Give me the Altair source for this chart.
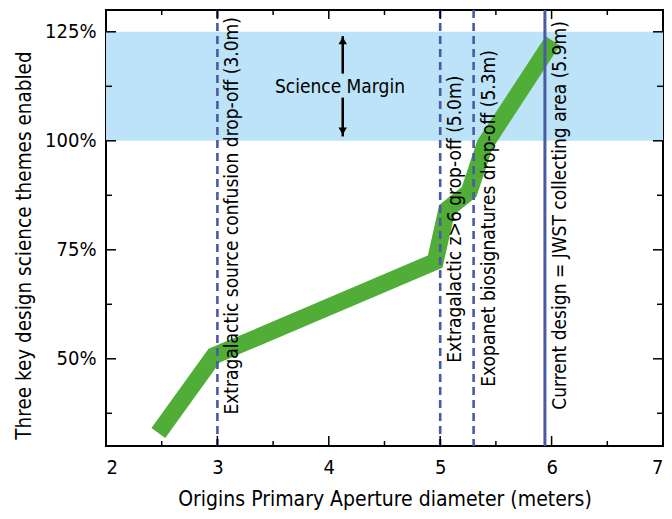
import altair as alt
import pandas as pd

# ---- data ----
curve_x = [2.47, 2.97, 4.955, 5.06, 5.26, 5.40, 6.01]
curve_y = [33.0, 50.7, 72.3, 84.2, 88.3, 99.1, 122.9]

margin_lo = [100]
margin_hi = [125]

dashed_x = [3.0, 5.0, 5.3]
dashed_text = [
    "Extragalactic source confusion drop-off (3.0m)",
    "Extragalactic z>6 grop-off (5.0m)",
    "Exopanet biosignatures drop-off (5.3m)",
]
dashed_text_y = [37.2, 49.1, 43.6]

current_x = [5.94]
current_text = ["Current design = JWST collecting area (5.9m)"]
current_text_y = [38.3]

margin_label = ["Science Margin"]
margin_label_x = [4.1]
margin_label_y = [112.4]
arrow_x = [4.125, 4.125]
arrow_y1 = [124.0, 109.9]
arrow_y2 = [115.4, 101.0]
arrowhead_y = [123.0, 102.2]
arrowhead_shape = ["triangle-up", "triangle-down"]

x_major = [2, 3, 4, 5, 6, 7]
x_minor = [2.5, 3.5, 4.5, 5.5, 6.5]
y_major = [50, 75, 100, 125]
y_minor = [37.5, 62.5, 87.5, 112.5]

W, H = 557, 436
FONT = "DejaVu Sans Condensed, DejaVu Sans, sans-serif"
BLUE = "#4a5ba6"
GREEN = "#4fad38"

xs = alt.Scale(domain=[2, 7], nice=False, zero=False)
ys = alt.Scale(domain=[30, 130], nice=False, zero=False)
xaxis = alt.Axis(values=x_major, ticks=False, domain=False, grid=False,
                 labelFontSize=20, labelPadding=11, titleFontSize=21,
                 titlePadding=11, format="d")
yaxis = alt.Axis(values=y_major, ticks=False, domain=False, grid=False,
                 labelFontSize=20, labelPadding=10, titleFontSize=20.5,
                 titlePadding=10, titleY=H / 2 + 17, labelExpr="datum.value + '%'")
XT = "Origins Primary Aperture diameter (meters)"
YT = "Three key design science themes enabled"


def X(f):
    return alt.X(f, type="quantitative", scale=xs, axis=xaxis, title=XT)


def Y(f):
    return alt.Y(f, type="quantitative", scale=ys, axis=yaxis, title=YT)


band = alt.Chart(pd.DataFrame({"x": [2], "x2": [7], "lo": margin_lo, "hi": margin_hi})).mark_rect(
    color="#bce3f7").encode(x=X("x"), x2="x2", y=Y("lo"), y2="hi")

curve = alt.Chart(pd.DataFrame({"x": curve_x, "y": curve_y, "o": list(range(len(curve_x)))})).mark_line(
    color=GREEN, strokeWidth=17, strokeJoin="miter", strokeCap="butt").encode(
    x=X("x"), y=Y("y"), order="o")

dashed = alt.Chart(pd.DataFrame({"x": dashed_x})).mark_rule(
    color=BLUE, strokeWidth=2.6, strokeDash=[8, 5]).encode(
    x=X("x"), y=alt.value(0), y2=alt.value(H))

solid = alt.Chart(pd.DataFrame({"x": current_x})).mark_rule(
    color=BLUE, strokeWidth=3).encode(x=X("x"), y=alt.value(0), y2=alt.value(H))

labels = alt.Chart(pd.DataFrame({
    "x": dashed_x + current_x,
    "y": dashed_text_y + current_text_y,
    "t": dashed_text + current_text,
})).mark_text(angle=270, align="left", baseline="alphabetic", dy=21,
              font=FONT, fontSize=19, color="black").encode(
    x=X("x"), y=Y("y"), text="t")

mlabel = alt.Chart(pd.DataFrame({"x": margin_label_x, "y": margin_label_y, "t": margin_label})).mark_text(
    font=FONT, fontSize=19, color="black", baseline="middle").encode(x=X("x"), y=Y("y"), text="t")

shafts = alt.Chart(pd.DataFrame({"x": arrow_x, "y1": arrow_y1, "y2": arrow_y2})).mark_rule(
    color="black", strokeWidth=2.5).encode(x=X("x"), y=Y("y1"), y2="y2")

heads = alt.Chart(pd.DataFrame({"x": arrow_x, "y": arrowhead_y, "s": arrowhead_shape})).mark_point(
    filled=True, color="black", size=70, opacity=1).encode(
    x=X("x"), y=Y("y"), shape=alt.Shape("s:N", scale=None, legend=None))


# inward ticks
def xticks(vals, top, length):
    y0 = 0 if top else H
    y1 = length if top else H - length
    return alt.Chart(pd.DataFrame({"x": vals})).mark_rule(color="black", strokeWidth=1.5).encode(
        x=X("x"), y=alt.value(y0), y2=alt.value(y1))


def yticks(vals, right, length):
    x0 = W if right else 0
    x1 = W - length if right else length
    return alt.Chart(pd.DataFrame({"y": vals})).mark_rule(color="black", strokeWidth=1.5).encode(
        y=Y("y"), x=alt.value(x0), x2=alt.value(x1))


ticks = [
    xticks(x_major, False, 10), xticks(x_minor, False, 5),
    xticks(x_major, True, 9), xticks(x_minor, True, 5),
    yticks(y_major, False, 10), yticks(y_minor, False, 6),
    yticks(y_major, True, 10), yticks(y_minor, True, 6),
]

chart = alt.layer(band, curve, dashed, solid, labels, mlabel, shafts, heads, *ticks).properties(
    width=W, height=H,
    autosize=alt.AutoSizeParams(type="none"),
    padding={"left": 98, "top": 2, "right": 1, "bottom": 64},
).configure_view(stroke="black", strokeWidth=2).configure_axis(
    labelFont=FONT, titleFont=FONT, labelColor="black", titleColor="black",
    titleFontWeight="normal")

chart.save("out.html", embed_options={"renderer": "svg", "actions": False})
